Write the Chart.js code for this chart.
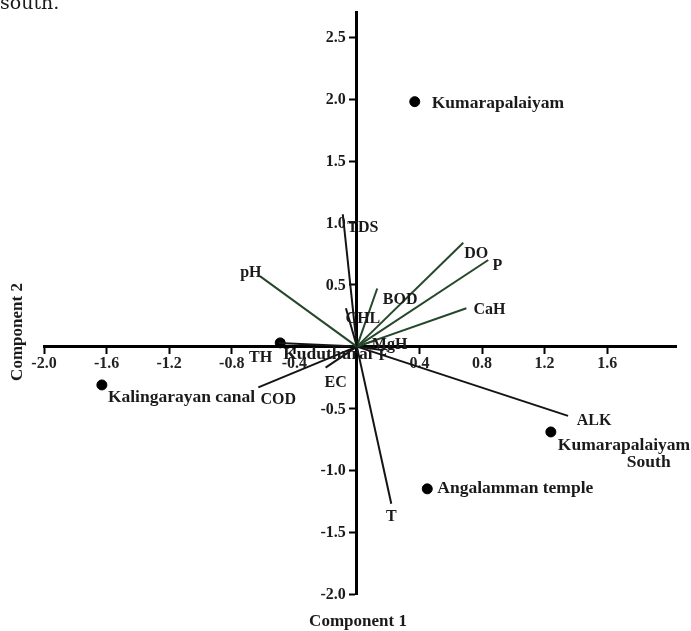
<!DOCTYPE html>
<html><head><meta charset="utf-8">
<script src="https://cdn.jsdelivr.net/npm/chart.js@4/dist/chart.umd.min.js"></script>
<style>html,body{margin:0;padding:0;background:#fff;}canvas{display:block;}</style>
</head><body>
<canvas id="c" width="691" height="631"></canvas>
<script>
const siteNames = ['Kumarapalaiyam','Kalingarayan canal','Kuduthurai','Kumarapalaiyam\nSouth','Angalamman temple'];
const siteX = [0.37,-1.63,-0.49,1.24,0.45];
const siteY = [1.98,-0.31,0.03,-0.69,-1.15];
const varNames = ['TDS','pH','DO','P','CaH','BOD','CHL','MgH','F','ALK','T','EC','COD','TH'];
const varX = [-0.09,-0.62,0.68,0.84,0.70,0.13,-0.07,0.12,0.17,1.35,0.22,-0.20,-0.63,-0.50];
const varY = [1.07,0.57,0.84,0.70,0.31,0.47,0.31,0.05,-0.03,-0.56,-1.27,-0.17,-0.33,0.03];
const xTicks = [-2.0,-1.6,-1.2,-0.8,-0.4,0.4,0.8,1.2,1.6];
const yTicks = [-2.0,-1.5,-1.0,-0.5,0.5,1.0,1.5,2.0,2.5];

const greenVars = ['DO','P','CaH','BOD','MgH','pH'];
const varLabelOffsets = {
  TDS:[20,14], pH:[-9,-3], DO:[13,11], P:[9,6],
  CaH:[23,2], BOD:[23,11], CHL:[17,11], MgH:[14,4],
  F:[0,6], ALK:[26,5], T:[0,13], EC:[10,15],
  COD:[20,12], TH:[-18,15]
};
const siteLabelOffsets = [[17,2],[6,13],[3,12],[7,14],[10,0]];
const SERIF = '"Liberation Serif", "Times New Roman", serif';

const vecDatasets = varNames.map((n,i)=>({
  type:'scatter', label:n, showLine:true,
  data:[{x:0,y:0},{x:varX[i],y:varY[i]}],
  borderColor: greenVars.includes(n) ? '#25472a' : '#141414',
  borderWidth:2, pointRadius:0, pointHoverRadius:0
}));
const siteDataset = {
  type:'scatter', label:'sites',
  data: siteX.map((x,i)=>({x:x,y:siteY[i]})),
  backgroundColor:'#000', borderColor:'#000', pointRadius:5, pointHoverRadius:5
};

const labelPlugin = {
  id:'labels',
  afterDraw(chart){
    const ctx = chart.ctx, xs = chart.scales.x, ys = chart.scales.y;
    ctx.save();
    ctx.fillStyle = '#1a1a1a';
    ctx.textBaseline = 'middle';
    // y-axis tick labels, left of the centred axis
    ctx.font = 'bold 16px ' + SERIF;
    ctx.textAlign = 'right';
    const x0 = xs.getPixelForValue(0);
    ys.ticks.forEach(t=>{
      ctx.fillText(Number(t.value).toFixed(1), x0 - 11, ys.getPixelForValue(t.value) + 1);
    });
    ctx.font = 'bold 16px ' + SERIF;
    ctx.textAlign = 'center';
    varNames.forEach((n,i)=>{
      const o = varLabelOffsets[n];
      ctx.fillText(n, xs.getPixelForValue(varX[i]) + o[0], ys.getPixelForValue(varY[i]) + o[1]);
    });
    ctx.font = 'bold 17.5px ' + SERIF;
    ctx.textAlign = 'left';
    siteNames.forEach((n,i)=>{
      const px = xs.getPixelForValue(siteX[i]) + siteLabelOffsets[i][0];
      const py = ys.getPixelForValue(siteY[i]) + siteLabelOffsets[i][1];
      const lines = n.split('\n');
      ctx.fillText(lines[0], px, py);
      if (lines[1]) ctx.fillText(lines[1], px + 69, py + 17);
    });
    // axis titles
    ctx.font = 'bold 17px ' + SERIF;
    ctx.textAlign = 'center';
    ctx.fillText('Component 1', 358, 622);
    ctx.save();
    ctx.translate(18, 332);
    ctx.rotate(-Math.PI/2);
    ctx.fillText('Component 2', 0, 0);
    ctx.restore();
    ctx.font = '19px "DejaVu Serif", serif';
    ctx.textAlign = 'left';
    ctx.textBaseline = 'alphabetic';
    ctx.fillText('south.', 0, 9);
    ctx.restore();
  }
};

new Chart(document.getElementById('c'), {
  data:{ datasets:[...vecDatasets, siteDataset] },
  options:{
    responsive:false, animation:false,
    layout:{ padding:{ left:44, right:15, top:12, bottom:37 } },
    plugins:{ legend:{display:false}, tooltip:{enabled:false} },
    scales:{
      x:{
        type:'linear', min:-2.0, max:2.04, position:{y:0},
        afterBuildTicks(s){ s.ticks = xTicks.map(v=>({value:v})); },
        grid:{ drawOnChartArea:false, drawTicks:true, tickLength:6, tickColor:'#000', tickWidth:2 },
        border:{ color:'#000', width:3 },
        ticks:{ color:'#222', padding:2, maxRotation:0, autoSkip:false,
          font:{ family:SERIF, weight:'bold', size:16 },
          callback:(v)=>Number(v).toFixed(1) }
      },
      y:{
        type:'linear', min:-2.0, max:2.7, position:{x:0},
        afterBuildTicks(s){ s.ticks = yTicks.map(v=>({value:v})); },
        grid:{ drawOnChartArea:false, drawTicks:true, tickLength:6, tickColor:'#000', tickWidth:2 },
        border:{ color:'#000', width:3 },
        ticks:{ color:'rgba(0,0,0,0)', autoSkip:false,
          font:{ family:SERIF, weight:'bold', size:16 },
          callback:(v)=>Number(v).toFixed(1) }
      }
    }
  },
  plugins:[labelPlugin]
});
</script>
</body></html>
